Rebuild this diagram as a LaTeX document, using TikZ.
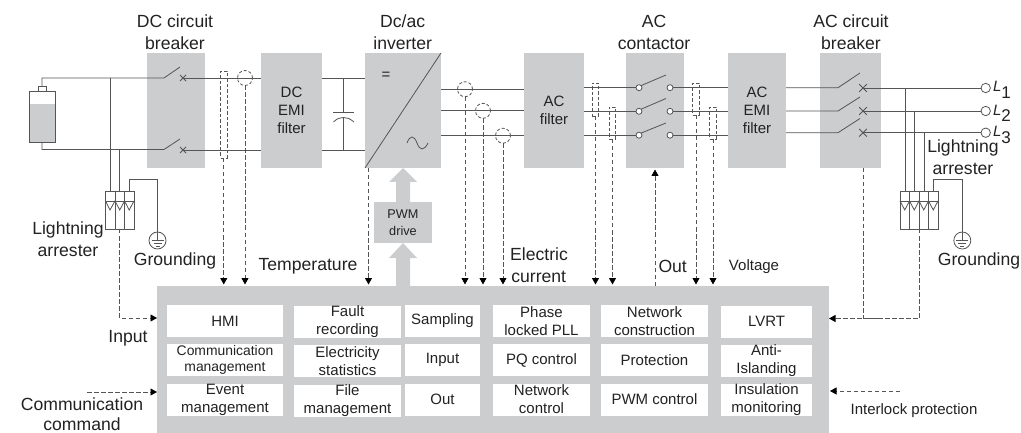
\documentclass[tikz,border=0pt]{standalone}
\usepackage{fontspec}
\setmainfont{Liberation Sans}
\usetikzlibrary{arrows.meta,calc}
\definecolor{boxgray}{HTML}{CCCDCF}
\definecolor{wirec}{HTML}{555555}
\definecolor{txt}{HTML}{222222}
\tikzset{
 graybox/.style={fill=boxgray,draw=none,inner sep=0pt,outer sep=0pt,text=txt,align=center,font=\fontsize{15}{18}\selectfont},
 cellbox/.style={fill=white,draw=none,inner sep=0pt,outer sep=0pt},
 celltxt/.style={inner sep=0pt,outer sep=0pt,text=txt,align=center,font=\fontsize{15}{18.2}\selectfont},
 smalltxt/.style={inner sep=0pt,outer sep=0pt,text=txt,align=center,font=\fontsize{13.9}{16.8}\selectfont},
 biglabel/.style={inner sep=0pt,outer sep=0pt,text=txt,anchor=base,font=\fontsize{17.6}{21}\selectfont},
 midlabel/.style={inner sep=0pt,outer sep=0pt,text=txt,anchor=base,font=\fontsize{15}{18}\selectfont},
 wire/.style={draw=wirec,line width=0.8pt},
 phase/.style={draw=wirec,line width=1pt},
 sig/.style={draw=wirec,line width=0.8pt,dash pattern=on 4.5pt off 2.5pt,-{Triangle[length=6.5pt,width=7pt,color=black]}},
 sigline/.style={draw=wirec,line width=0.8pt,dash pattern=on 4.5pt off 2.5pt},
 senring/.style={circle,draw=wirec,line width=0.8pt,dash pattern=on 3pt off 2pt,minimum size=15pt,inner sep=0pt,outer sep=0pt},
 senrect/.style={rectangle,draw=wirec,line width=0.8pt,dash pattern=on 3.5pt off 2pt,inner sep=0pt,outer sep=0pt,minimum width=6.5pt},
 pole/.style={circle,draw=wirec,fill=white,line width=0.8pt,minimum size=6pt,inner sep=0pt,outer sep=0pt},
 endring/.style={circle,draw=wirec,fill=white,line width=0.8pt,minimum size=9.4pt,inner sep=0pt,outer sep=0pt},
 gndring/.style={circle,draw=wirec,line width=0.8pt,minimum size=17pt,inner sep=0pt,outer sep=0pt},
 arrbox/.style={rectangle,draw=wirec,line width=0.8pt,inner sep=0pt,outer sep=0pt},
 lname/.style={inner sep=0pt,outer sep=0pt,text=txt,anchor=base west,font=\fontsize{17}{20}\selectfont},
}
\newcommand{\cellnode}[6]{\node[cellbox,minimum width=#3pt,minimum height=32pt,label={[#6]center:#5}] (#1) at (#2,#4) {};}
\newcommand{\xmark}[2]{\draw[wire] ($(#1)+(-#2,-#2)$) -- ($(#1)+(#2,#2)$) ($(#1)+(-#2,#2)$) -- ($(#1)+(#2,-#2)$);}
\begin{document}
\begin{tikzpicture}[x=1pt,y=-1pt]
\useasboundingbox (0,0) rectangle (1021,433);
% main boxes
\node[graybox,minimum width=58pt,minimum height=115pt] (dcb) at (176,110.5) {};
\node[graybox,minimum width=61pt,minimum height=115pt] (dce) at (291.5,110.5) {DC\\EMI\\filter};
\node[graybox,minimum width=76pt,minimum height=115pt] (inv) at (403,110.5) {};
\node[graybox,minimum width=60pt,minimum height=115pt] (acf) at (554,110.5) {AC\\filter};
\node[graybox,minimum width=58pt,minimum height=115pt] (acc) at (655,110.5) {};
\node[graybox,minimum width=58pt,minimum height=115pt] (ace) at (757,110.5) {AC\\EMI\\filter};
\node[graybox,minimum width=61pt,minimum height=115pt] (acb) at (850.5,110.5) {};
\node[graybox,minimum width=672pt,minimum height=147pt] (ctrl) at (493,359.5) {};
\node[graybox,minimum width=58pt,minimum height=41pt,font=\fontsize{12.7}{16.5}\selectfont] (pwm) at (403,222.5) {PWM\\drive};
% thick grey arrows
\fill[boxgray] (inv.south -| pwm) -- (417,182) -- (410,182) -- (410,202) -- (396,202) -- (396,182) -- (389,182) -- cycle;
\fill[boxgray] (pwm.south) -- (417,258) -- (410,258) -- (410,286.5) -- (396,286.5) -- (396,258) -- (389,258) -- cycle;
% inverter marks
\draw[wire] (inv.south west) -- (inv.north east);
\node[midlabel,anchor=center] (eqs) at (386,76) {=};
\draw[wire] (407,143) .. controls (410,135) and (414,135) .. (417,143) .. controls (420,151) and (424,151) .. (428,143);
% battery
\fill[boxgray] (29,104) rectangle (55,142);
\node[arrbox,minimum width=26pt,minimum height=51pt] (bat) at (42,116.5) {};
\node[arrbox,minimum width=8pt,minimum height=5pt,anchor=south] (batcap) at (bat.north) {};
% DC side
\coordinate (dsw1) at (164,78);
\coordinate (dsw1t) at (180,67);
\coordinate (dx1) at (183,78);
\coordinate (dsw2) at (164,149.5);
\coordinate (dsw2t) at (180,139);
\coordinate (dx2) at (183,150);
\draw[wire] (batcap.north) |- (dsw1) -- (dsw1t);
\draw[wire] (bat.south) |- (dsw2) -- (dsw2t);
\xmark{dx1}{3}
\xmark{dx2}{3}
\draw[wire] (dx1) -- (dx1 -| dce.west);
\draw[wire] (dx2) -- (dx2 -| dce.west);
% capacitor
\coordinate (cap1) at (343.5,112);
\coordinate (cap2) at (343.5,117.5);
\draw[wire] (dce.east |- dx1) -- (dx1 -| inv.west);
\draw[wire] (dce.east |- dx2) -- (dx2 -| inv.west);
\draw[wire] (cap1 |- dx1) -- (cap1);
\draw[wire] (333,112) -- (354,112);
\draw[wire] (333.5,122) .. controls (337,118.5) and (340,117.5) .. (cap2) .. controls (347,117.5) and (350,118.5) .. (354,122);
\draw[wire] (cap2) -- (cap2 |- dx2);
% left arrester
\node[arrbox,minimum width=28.5pt,minimum height=38pt,anchor=north] (ar1) at (119.75,191) {};
\draw[wire] (115,191) -- (115,229) (124.5,191) -- (124.5,229);
\draw[wire] (105.5,201) -- (134,201);
\draw[wire] (105.5,201) -- (110,210) -- (115,201) -- (119.75,210) -- (124.5,201) -- (129.2,210) -- (134,201);
\draw[wire] (110,78) -- (110,191);
\draw[wire] (119.5,149.5) -- (119.5,191);
\node[gndring] (g1) at (157.5,240.5) {};
\draw[wire] (129,191) -- (129,179) -| (g1.north);
\draw[wire] (g1.north) -- (g1.center);
\draw[wire] (151.5,240.5) -- (163.5,240.5) (153.5,243.5) -- (161.5,243.5) (155.5,246.5) -- (159.5,246.5);
% DC sensors
\node[senrect,minimum height=87pt] (st1) at (223.75,114.5) {};
\node[senring] (si1) at (245,78) {};
\draw[sig,shorten >=1.5pt] (st1.south) -- (st1.south |- ctrl.north);
\draw[sig,shorten >=1.5pt] (si1.south) -- (si1.south |- ctrl.north);
% temperature
\draw[sig,shorten >=1.5pt] (inv.south -| 368.5,0) -- (368.5,286);
% AC phases inverter-filter
\node[senring] (si2) at (465,89.2) {};
\node[senring] (si3) at (483,110.8) {};
\node[senring] (si4) at (503,135.7) {};
\draw[phase] (inv.east |- si2) -- (acf.west |- si2);
\draw[phase] (inv.east |- si3) -- (acf.west |- si3);
\draw[phase] (inv.east |- si4) -- (acf.west |- si4);
\draw[sig,shorten >=1.5pt] (si2.south) -- (si2.south |- ctrl.north);
\draw[sig,shorten >=1.5pt] (si3.south) -- (si3.south |- ctrl.north);
\draw[sig,shorten >=1.5pt] (si4.south) -- (si4.south |- ctrl.north);
% contactor
\node[pole] (pa1) at (639,87.7) {};
\node[pole] (pa2) at (639,111.3) {};
\node[pole] (pa3) at (639,135.2) {};
\node[pole] (pb1) at (670,87.7) {};
\node[pole] (pb2) at (670,111.3) {};
\node[pole] (pb3) at (670,135.2) {};
\draw[wire] (acf.east |- pa1) -- (pa1.west);
\draw[wire] (acf.east |- pa2) -- (pa2.west);
\draw[wire] (acf.east |- pa3) -- (pa3.west);
\draw[wire] (pa1.north east) -- (666,75);
\draw[wire] (pa2.north east) -- (666,98.5);
\draw[wire] (pa3.north east) -- (666,123);
\draw[wire] (pb1.east) -- (pb1 -| ace.west);
\draw[wire] (pb2.east) -- (pb2 -| ace.west);
\draw[wire] (pb3.east) -- (pb3 -| ace.west);
% contactor sensors
\node[senrect,minimum height=33pt] (st2) at (595.5,99.5) {};
\node[senrect,minimum height=32pt] (st3) at (612.5,123) {};
\node[senrect,minimum height=32pt] (st4) at (696,99) {};
\node[senrect,minimum height=32pt] (st5) at (713,123) {};
\draw[sig,shorten >=1.5pt] (st2.south) -- (st2.south |- ctrl.north);
\draw[sig,shorten >=1.5pt] (st3.south) -- (st3.south |- ctrl.north);
\draw[sig,shorten >=1.5pt] (st4.south) -- (st4.south |- ctrl.north);
\draw[sig,shorten >=1.5pt] (st5.south) -- (st5.south |- ctrl.north);
% Out arrow
\draw[sig,shorten >=1.5pt] (acc.south |- ctrl.north) -- (acc.south);
% AC breaker
\coordinate (asw1) at (838,87.7);
\coordinate (asw2) at (838,111);
\coordinate (asw3) at (838,132.7);
\coordinate (ax1) at (863,88);
\coordinate (ax2) at (863,111);
\coordinate (ax3) at (863,132.7);
\draw[wire] (ace.east |- asw1) -- (asw1) -- (860,73);
\draw[wire] (ace.east |- asw2) -- (asw2) -- (860,97);
\draw[wire] (ace.east |- asw3) -- (asw3) -- (860,118.5);
\xmark{ax1}{3.8}
\xmark{ax2}{3.8}
\xmark{ax3}{3.8}
\node[endring] (l1) at (985.7,88) {};
\node[endring] (l2) at (985.7,111) {};
\node[endring] (l3) at (985.7,132.7) {};
\draw[wire] (ax1) -- (l1.west);
\draw[wire] (ax2) -- (l2.west);
\draw[wire] (ax3) -- (l3.west);
\node[lname] (tl1) at (993,92) {\fontsize{15}{18}\selectfont\itshape L\raisebox{-6.7pt}{\fontsize{17}{20}\selectfont\upshape 1}};
\node[lname] (tl2) at (993,115.5) {\fontsize{15}{18}\selectfont\itshape L\raisebox{-6.5pt}{\fontsize{17}{20}\selectfont\upshape 2}};
\node[lname] (tl3) at (993,137) {\fontsize{15}{18}\selectfont\itshape L\raisebox{-7pt}{\fontsize{17}{20}\selectfont\upshape 3}};
% right arrester
\node[arrbox,minimum width=38pt,minimum height=38pt,anchor=north] (ar2) at (919,191) {};
\draw[wire] (909.5,191) -- (909.5,229) (919,191) -- (919,229) (928.5,191) -- (928.5,229);
\draw[wire] (900,201) -- (938,201);
\draw[wire] (900,201) -- (904.75,210) -- (909.5,201) -- (914.25,210) -- (919,201) -- (923.75,210) -- (928.5,201) -- (933.25,210) -- (938,201);
\draw[wire] (905,88) -- (905,191);
\draw[wire] (914.7,111) -- (914.7,191);
\draw[wire] (924,132.7) -- (924,191);
\node[gndring] (g2) at (962.3,240.5) {};
\draw[wire] (933.3,191) -- (933.3,179) -| (g2.north);
\draw[wire] (g2.north) -- (g2.center);
\draw[wire] (956.3,240.5) -- (968.3,240.5) (958.3,243.5) -- (966.3,243.5) (960.3,246.5) -- (964.3,246.5);
% signal lines around controller
\coordinate (inL) at (157,318);
\coordinate (inR) at (829,318.5);
\draw[sig] (119.5,229) |- (inL);
\draw[sigline] (acb.south -| 863,0) |- (880,318.5);
\draw[sig] (ar2.south) |- (inR);
\coordinate (cmdS) at (87,392);
\coordinate (lockS) at (900,391);
\draw[sig] (cmdS) -- (cmdS -| ctrl.west);
\draw[sig,shorten >=1pt] (lockS) -- (lockS -| ctrl.east);
% cells
\cellnode{c11}{225}{116}{321}{HMI}{celltxt}
\cellnode{c21}{225}{116}{360}{Communication\\management}{smalltxt}
\cellnode{c31}{225}{116}{399.5}{Event\\management}{celltxt}
\cellnode{c12}{347.5}{107}{321.5}{Fault\\recording}{celltxt}
\cellnode{c22}{347.5}{107}{361}{Electricity\\statistics}{celltxt}
\cellnode{c32}{347.5}{107}{400.5}{File\\management}{celltxt}
\cellnode{c13}{442.5}{75}{321}{Sampling}{celltxt}
\cellnode{c23}{442.5}{75}{360}{Input}{celltxt}
\cellnode{c33}{442.5}{75}{399.5}{Out}{celltxt}
\cellnode{c14}{541.5}{97}{321}{Phase\\locked PLL}{celltxt}
\cellnode{c24}{541.5}{97}{360}{PQ control}{celltxt}
\cellnode{c34}{541.5}{97}{399.5}{Network\\control}{celltxt}
\cellnode{c15}{654.5}{107}{321}{Network\\construction}{celltxt}
\cellnode{c25}{654.5}{107}{360}{Protection}{celltxt}
\cellnode{c35}{654.5}{107}{399.5}{PWM control}{celltxt}
\cellnode{c16}{766.5}{91}{321.5}{LVRT}{celltxt}
\cellnode{c26}{766.5}{91}{361}{Anti-\\Islanding}{celltxt}
\cellnode{c36}{766.5}{91}{399.5}{Insulation\\monitoring}{celltxt}
% labels
\node[biglabel] (t1a) at (175,28) {DC circuit};
\node[biglabel] (t1b) at (175,49.3) {breaker};
\node[biglabel] (t2a) at (402.7,28) {Dc/ac};
\node[biglabel] (t2b) at (402.7,49.3) {inverter};
\node[biglabel] (t3a) at (654,28) {AC};
\node[biglabel] (t3b) at (654,49.3) {contactor};
\node[biglabel] (t4a) at (851,28) {AC circuit};
\node[biglabel] (t4b) at (851,49.3) {breaker};
\node[biglabel] (t5a) at (68,234.5) {Lightning};
\node[biglabel] (t5b) at (68,256) {arrester};
\node[biglabel] (t6) at (175,265.7) {Grounding};
\node[biglabel] (t7) at (308,270.7) {Temperature};
\node[biglabel] (t8a) at (539,261) {Electric};
\node[biglabel] (t8b) at (538.7,282.7) {current};
\node[biglabel] (t9) at (672.7,272.7) {Out};
\node[midlabel] (t10) at (754,270.7) {Voltage};
\node[biglabel] (t11a) at (963,153) {Lightning};
\node[biglabel] (t11b) at (963,174.3) {arrester};
\node[biglabel] (t12) at (979,265.7) {Grounding};
\node[biglabel] (t13) at (128,342.7) {Input};
\node[biglabel] (t14a) at (82,410) {Communication};
\node[biglabel] (t14b) at (82,430.7) {command};
\node[midlabel] (t15) at (914,414) {Interlock protection};
\end{tikzpicture}
\end{document}
